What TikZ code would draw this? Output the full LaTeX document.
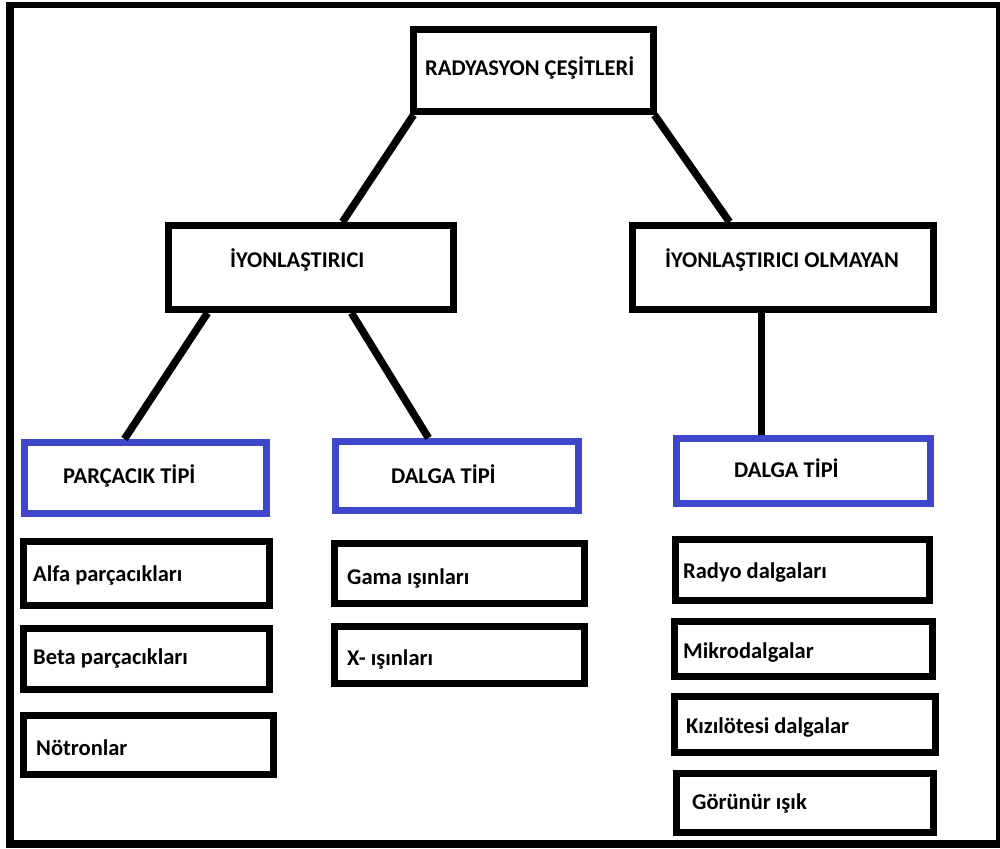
\documentclass[tikz,border=0pt]{standalone}
\usepackage{fontspec}
\setmainfont{Carlito}
\usetikzlibrary{calc}
\definecolor{paintblue}{HTML}{3F48CC}
\tikzset{
  blk/.style={draw=black, line width=7pt, rectangle, inner sep=0pt, fill=white},
  blu/.style={draw=paintblue, line width=7pt, rectangle, inner sep=0pt, fill=white},
  lbl/.style={anchor=west, inner sep=0pt, font=\fontsize{22.5}{26}\selectfont\bfseries, text=black},
  conn/.style={draw=black, line width=7.5pt}
}
\begin{document}
\begin{tikzpicture}[x=1pt, y=-1pt]
\useasboundingbox (0,0) rectangle (1000,848);
\fill[white] (0,0) rectangle (1000,848);
% outer frame
\fill[black] (6,2) rectangle (1000,8);
\fill[black] (6,2) rectangle (14,848);
\fill[black] (6,840) rectangle (1000,848);
\fill[black] (996,2) rectangle (1000,848);

% boxes
\node[blk, minimum width=240pt, minimum height=82pt] (top) at (533.5,70.5) {};
\node[blk, minimum width=285pt, minimum height=84pt] (iyon) at (311,267.5) {};
\node[blk, minimum width=301pt, minimum height=84pt] (olm) at (783,267.5) {};
\node[blu, minimum width=242pt, minimum height=71pt] (parc) at (145.5,478) {};
\node[blu, minimum width=243pt, minimum height=69pt] (dal1) at (457,476) {};
\node[blu, minimum width=254pt, minimum height=65pt] (dal2) at (803.5,471) {};
\node[blk, minimum width=246pt, minimum height=64pt] (alfa) at (146.5,573.5) {};
\node[blk, minimum width=246pt, minimum height=61pt] (beta) at (146.5,659) {};
\node[blk, minimum width=250pt, minimum height=59pt] (notr) at (148.5,745) {};
\node[blk, minimum width=250pt, minimum height=60pt] (gama) at (459.5,573.5) {};
\node[blk, minimum width=250pt, minimum height=57pt] (xray) at (459.5,655) {};
\node[blk, minimum width=254pt, minimum height=61pt] (radyo) at (802.5,570) {};
\node[blk, minimum width=258pt, minimum height=55pt] (mikro) at (803.5,649) {};
\node[blk, minimum width=261pt, minimum height=56pt] (kizil) at (805,724.5) {};
\node[blk, minimum width=257pt, minimum height=59pt] (gorunur) at (805,803) {};

% labels
\node[lbl] (ttop) at (425,68) {RADYASYON ÇEŞİTLERİ};
\node[lbl] (tiyon) at (230,260) {İYONLAŞTIRICI};
\node[lbl] (tolm) at (665,260) {İYONLAŞTIRICI OLMAYAN};
\node[lbl] (tparc) at (63,476) {PARÇACIK TİPİ};
\node[lbl] (tdal1) at (391,474) {DALGA TİPİ};
\node[lbl] (tdal2) at (734,468) {DALGA TİPİ};
\node[lbl] (talfa) at (33,575) {Alfa parçacıkları};
\node[lbl] (tbeta) at (33,658) {Beta parçacıkları};
\node[lbl] (tnotr) at (36,748) {Nötronlar};
\node[lbl] (tgama) at (347,578) {Gama ışınları};
\node[lbl] (txray) at (347,659) {X- ışınları};
\node[lbl] (tradyo) at (683,573) {Radyo dalgaları};
\node[lbl] (tmikro) at (683,653) {Mikrodalgalar};
\node[lbl] (tkizil) at (686,728) {Kızılötesi dalgalar};
\node[lbl] (tgor) at (692,803) {Görünür ışık};

% connectors
\draw[conn] ($(top.south west)+(3.5,0)$) -- ($(iyon.north west)+(177.5,0)$);
\draw[conn] ($(top.south east)+(-2.5,0)$) -- ($(olm.north west)+(100.5,0)$);
\draw[conn] ($(iyon.south west)+(42.5,0)$) -- ($(parc.north west)+(103.5,0)$);
\draw[conn] ($(iyon.south west)+(186.5,0)$) -- ($(dal1.north west)+(96.5,0)$);
\draw[conn] ($(olm.south west)+(132.5,0)$) -- ($(dal2.north west)+(88.5,0)$);
\end{tikzpicture}
\end{document}
